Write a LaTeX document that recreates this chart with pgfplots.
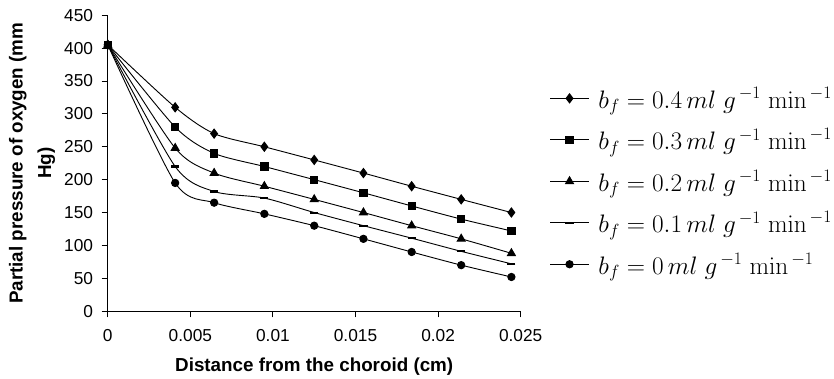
\documentclass[border=0pt]{standalone}
\usepackage[no-math]{fontspec}
\setmainfont{Liberation Sans}
\usepackage{pgfplots}
\pgfplotsset{compat=1.18}
\newcommand{\legtxt}[1]{$b_{f} = #1\,ml\;g^{\,-1}\;\mathrm{min}^{\,-1}$}
\begin{document}
\begin{tikzpicture}
\begin{axis}[
  scale only axis,
  width=406pt, height=291pt,
  xmin=0, xmax=0.025, ymin=0, ymax=450,
  axis lines=left,
  axis line style={-, line width=1pt},
  scaled x ticks=false,
  xtick={0,0.005,0.01,0.015,0.02,0.025},
  xticklabels={0,0.005,0.01,0.015,0.02,0.025},
  ytick={0,50,...,450},
  /pgf/number format/assume math mode=true,
  tick style={black, line width=1pt},
  tick align=outside,
  major tick length=6pt,
  ticklabel style={font=\fontsize{17}{19}\selectfont},
  xticklabel style={yshift=-8pt},
  yticklabel style={xshift=-5pt},
  xlabel={\textbf{Distance from the choroid (cm)}},
  ylabel={\textbf{Partial pressure of oxygen (mm}\\\textbf{Hg)}},
  label style={font=\fontsize{18.5}{28}\selectfont},
  ylabel style={align=center},
  ylabel shift=2pt,
  xlabel style={yshift=-9pt},
  every axis plot/.append style={black, line width=0.9pt, smooth, tension=0.45},
  legend style={draw=none, fill=none, at={(1.07,0.765)}, anchor=north west,
    font=\fontsize{24}{26}\selectfont, row sep=14.5pt, column sep=7pt, cells={anchor=west},
    inner sep=0pt},
  legend image code/.code={\draw[#1, sharp plot] (0pt,0pt) -- (19pt,0pt) plot coordinates {(19pt,0pt)} -- (38pt,0pt);},
  extra description/.code={\path (rel axis cs:0,1) ++(0pt,15pt); \path (rel axis cs:0,0) ++(-106pt,0pt);},
]
\addplot[mark=diamond*, mark size=4.5pt] coordinates {
(0,405) (0.00408,310) (0.00644,270) (0.00948,250) (0.0125,230) (0.01548,210) (0.0184,190) (0.0214,170) (0.02444,150)};
\addlegendentry{\legtxt{0.4}}
\addplot[mark=square*, mark size=3.6pt] coordinates {
(0,405) (0.00408,280) (0.00644,240) (0.00948,220) (0.0125,200) (0.01548,180) (0.0184,160) (0.0214,140) (0.02444,122)};
\addlegendentry{\legtxt{0.3}}
\addplot[mark=triangle*, mark size=4.5pt] coordinates {
(0,405) (0.00408,248) (0.00644,210) (0.00948,190) (0.0125,170) (0.01548,150) (0.0184,130) (0.0214,110) (0.02444,88)};
\addlegendentry{\legtxt{0.2}}
\addplot[mark=-, mark size=4pt, mark options={line width=2pt}] coordinates {
(0,405) (0.00408,220) (0.00644,182) (0.00948,172) (0.0125,150) (0.01548,130) (0.0184,111) (0.0214,91) (0.02444,72)};
\addlegendentry{\legtxt{0.1}}
\addplot[mark=*, mark size=3.6pt] coordinates {
(0,405) (0.00408,195) (0.00644,165) (0.00948,148) (0.0125,130) (0.01548,110) (0.0184,90) (0.0214,70) (0.02444,52)};
\addlegendentry{\legtxt{0}}
\end{axis}
\end{tikzpicture}
\end{document}
